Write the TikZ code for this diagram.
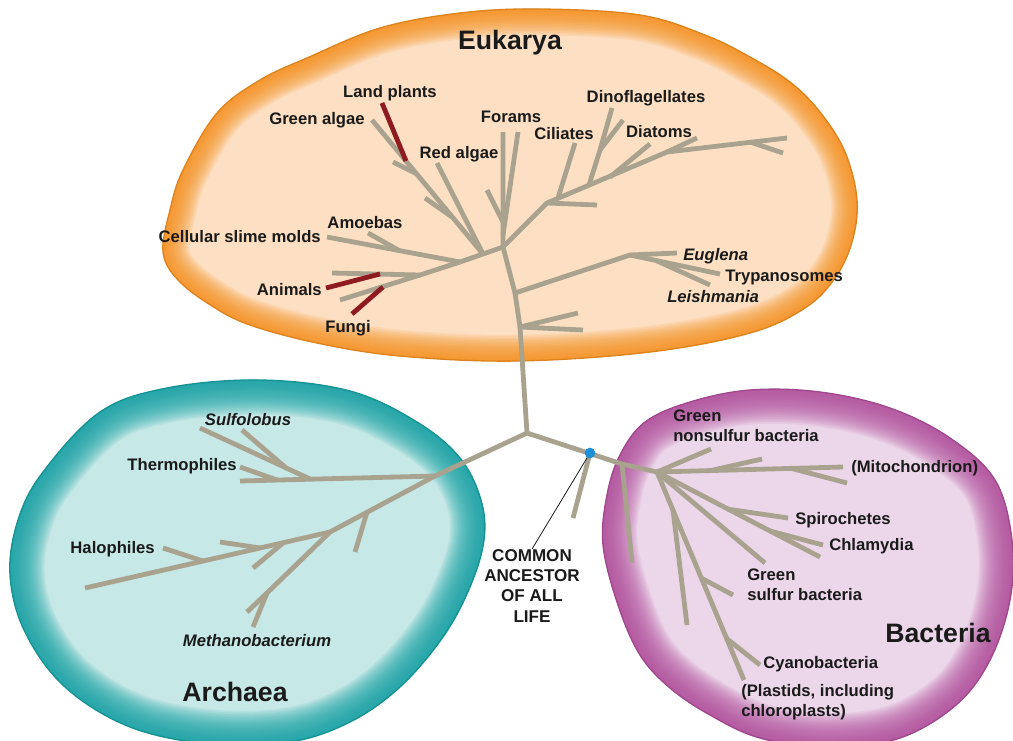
\documentclass[tikz,border=0pt]{standalone}
\usepackage{fontspec}
\setmainfont{Liberation Sans}
\definecolor{ink}{HTML}{1A1A1A}
\definecolor{twig}{HTML}{A8A28F}
\definecolor{plantred}{HTML}{8E1B1F}
\definecolor{eukin}{HTML}{FDE0C3}
\definecolor{eukrim}{HTML}{F5911F}
\definecolor{arcin}{HTML}{C6E8E6}
\definecolor{arcrim}{HTML}{17A2A5}
\definecolor{bacin}{HTML}{ECD7EA}
\definecolor{bacrim}{HTML}{B24F9D}
\definecolor{ancblue}{HTML}{1C8FD9}

\newcommand{\eukpath}{plot[smooth cycle,tension=0.6] coordinates {(163,252) (170,210) (183,170) (217,113) (260,80) (307,58) (380,28) (460,13) (540,9) (640,15) (705,35) (750,57) (790,82) (820,112) (845,152) (857,200) (852,242) (835,278) (805,308) (750,333) (650,352) (517,361) (400,356) (317,343) (250,325) (212,306) (178,280)}}
\newcommand{\arcpath}{plot[smooth cycle,tension=0.6] coordinates {(10,575) (18,520) (43,472) (100,412) (167,388) (260,380) (350,391) (417,422) (460,458) (481,500) (484,540) (470,587) (443,637) (400,687) (350,722) (290,742) (210,744) (130,727) (65,687) (25,632)}}
\newcommand{\bacpath}{plot[smooth cycle,tension=0.6] coordinates {(603,545) (607,495) (620,455) (645,422) (690,402) (750,390) (820,392) (890,408) (950,438) (995,480) (1012,540) (1010,600) (990,660) (956,705) (900,738) (830,748) (760,738) (710,715) (670,688) (640,655) (618,605)}}

\tikzset{
  branch/.style={twig,line width=3.6pt,line join=round},
  redbranch/.style={plantred,line width=3.6pt},
  lab/.style={font=\fontsize{12.5}{15}\selectfont\bfseries,text=ink,
    inner sep=0pt,text height=9pt,text depth=0pt},
  ital/.style={lab,font=\fontsize{12.5}{15}\selectfont\bfseries\itshape},
  mlab/.style={font=\fontsize{12.5}{15}\selectfont\bfseries,text=ink,
    inner sep=0pt,align=left},
  domainlab/.style={font=\fontsize{20}{24}\selectfont\bfseries,text=ink,
    inner sep=0pt,text height=14.3pt,text depth=0pt},
}

\begin{document}
\begin{tikzpicture}[x=0.75pt,y=-0.75pt]
  \fill[white] (0,0) rectangle (1013,740);
  \useasboundingbox (0,0) rectangle (1013,740);

  % the three domains, light inside and a soft darker rim
  \begin{scope}
    \clip \eukpath;
    \fill[eukin] \eukpath;
    \foreach \i [evaluate=\i as \w using 2.2*\i] in {1,...,18}
      \draw[eukrim,line width=\w pt,opacity=0.1] \eukpath;
  \end{scope}
  \draw[eukrim!90!black,line width=1pt] \eukpath;
  \begin{scope}
    \clip \arcpath;
    \fill[arcin] \arcpath;
    \foreach \i [evaluate=\i as \w using 2.6*\i] in {1,...,20}
      \draw[arcrim,line width=\w pt,opacity=0.1] \arcpath;
  \end{scope}
  \draw[arcrim!90!black,line width=1pt] \arcpath;
  \begin{scope}
    \clip \bacpath;
    \fill[bacin] \bacpath;
    \foreach \i [evaluate=\i as \w using 2.6*\i] in {1,...,20}
      \draw[bacrim,line width=\w pt,opacity=0.1] \bacpath;
  \end{scope}
  \draw[bacrim!90!black,line width=1pt] \bacpath;

  % tree points
  \coordinate (root) at (527,433);
  \coordinate (eA) at (520,327); \coordinate (eB) at (515,293);
  \coordinate (eC) at (503,247);
  \coordinate (eA1) at (578,313); \coordinate (eA2) at (583,330);
  \coordinate (eu0) at (630,255); \coordinate (eu1) at (655,260);
  \coordinate (euglT) at (677,253); \coordinate (trypT) at (720,274);
  \coordinate (leishT) at (710,285);
  \coordinate (fo1) at (503,132); \coordinate (fo2a) at (503,235);
  \coordinate (fo2) at (518,132); \coordinate (fo3a) at (503,222);
  \coordinate (fo3) at (487,190);
  \coordinate (r1) at (547,203); \coordinate (r2) at (667,152);
  \coordinate (r3) at (787,138); \coordinate (rh) at (597,205);
  \coordinate (cil0) at (558,198); \coordinate (cilT) at (575,143);
  \coordinate (dino0) at (589,185); \coordinate (dino1) at (600,150);
  \coordinate (dinoT1) at (612,108); \coordinate (dinoT2) at (623,120);
  \coordinate (diat0) at (610,177); \coordinate (diatT) at (650,144);
  \coordinate (diatT2) at (697,138);
  \coordinate (r3a) at (750,142); \coordinate (r3b) at (783,153);
  \coordinate (l1) at (483,254); \coordinate (l2) at (460,262);
  \coordinate (rdT) at (437,163); \coordinate (gaT) at (372,120);
  \coordinate (ga1) at (452,217); \coordinate (ga1T) at (425,198);
  \coordinate (ga2) at (417,174); \coordinate (ga2T) at (393,162);
  \coordinate (lp0) at (406,161); \coordinate (lpT) at (382,103);
  \coordinate (smT) at (327,237);
  \coordinate (am0) at (400,251); \coordinate (amT) at (368,233);
  \coordinate (an0) at (420,275); \coordinate (anT1) at (332,273);
  \coordinate (anT2) at (340,300);
  \coordinate (an1) at (380,274); \coordinate (anR) at (326,288);
  \coordinate (fu1) at (383,287); \coordinate (fuR) at (352,314);
  \coordinate (a1) at (435,476); \coordinate (a2) at (330,532);
  \coordinate (aT) at (85,588); \coordinate (aup) at (240,481);
  \coordinate (su0) at (310,479); \coordinate (suT) at (200,428);
  \coordinate (su1) at (285,467); \coordinate (suT2) at (242,430);
  \coordinate (th0) at (277,480); \coordinate (thT) at (240,467);
  \coordinate (b0) at (367,512); \coordinate (bT) at (355,552);
  \coordinate (me1) at (267,593); \coordinate (meT) at (253,627);
  \coordinate (meT2) at (247,612);
  \coordinate (h1) at (283,543); \coordinate (h1T) at (253,568);
  \coordinate (h2) at (260,548); \coordinate (h2T) at (220,542);
  \coordinate (h3) at (203,561); \coordinate (h3T) at (163,548);
  \coordinate (bc0) at (622,464); \coordinate (bcT) at (632,563);
  \coordinate (b1) at (657,472); \coordinate (ancT) at (573,518);
  \coordinate (mitoT) at (843,467);
  \coordinate (mi0) at (790,468); \coordinate (mitoT2) at (847,483);
  \coordinate (gnsT) at (711,449);
  \coordinate (gn0) at (713,470); \coordinate (gnT2) at (762,459);
  \coordinate (chT2) at (820,557);
  \coordinate (sp0) at (727,509); \coordinate (spT) at (788,518);
  \coordinate (ch0) at (770,531); \coordinate (chT) at (823,545);
  \coordinate (gsT) at (765,563); \coordinate (cyT) at (744,680);
  \coordinate (cy1) at (673,510); \coordinate (cy1T) at (687,625);
  \coordinate (cy2) at (701,578); \coordinate (cy2T) at (733,595);
  \coordinate (cy3) at (726,638); \coordinate (cy3T) at (760,665);

  % eukarya
  \draw[branch] (root) -- (eA) -- (eB) -- (eC) -- (fo1);
  \draw[branch] (eA1) -- (eA) -- (eA2);
  \draw[branch] (eB) -- (eu0) -- (euglT);
  \draw[branch] (eu0) -- (trypT);
  \draw[branch] (eu1) -- (leishT);
  \draw[branch] (fo2a) -- (fo2);
  \draw[branch] (fo3a) -- (fo3);
  \draw[branch] (eC) -- (r1) -- (r2) -- (r3);
  \draw[branch] (r1) -- (rh);
  \draw[branch] (cil0) -- (cilT);
  \draw[branch] (dino0) -- (dino1) -- (dinoT1);
  \draw[branch] (dino1) -- (dinoT2);
  \draw[branch] (diat0) -- (diatT);
  \draw[branch] (r2) -- (diatT2);
  \draw[branch] (r3a) -- (r3b);
  \draw[branch] (eC) -- (l1) -- (l2);
  \draw[branch] (l1) -- (rdT);
  \draw[branch] (l1) -- (gaT);
  \draw[branch] (ga1) -- (ga1T);
  \draw[branch] (ga2) -- (ga2T);
  \draw[branch] (l2) -- (smT);
  \draw[branch] (am0) -- (amT);
  \draw[branch] (l2) -- (an0) -- (anT1);
  \draw[branch] (an0) -- (anT2);
  \draw[redbranch] (lp0) -- (lpT);
  \draw[redbranch] (an1) -- (anR);
  \draw[redbranch] (fu1) -- (fuR);

  % archaea
  \draw[branch] (root) -- (a1) -- (a2) -- (aT);
  \draw[branch] (a1) -- (aup);
  \draw[branch] (su0) -- (suT);
  \draw[branch] (su1) -- (suT2);
  \draw[branch] (th0) -- (thT);
  \draw[branch] (b0) -- (bT);
  \draw[branch] (a2) -- (me1) -- (meT);
  \draw[branch] (me1) -- (meT2);
  \draw[branch] (h1) -- (h1T);
  \draw[branch] (h2) -- (h2T);
  \draw[branch] (h3) -- (h3T);

  % bacteria
  \draw[branch] (root) -- (bc0) -- (b1);
  \draw[branch] (bc0) -- (bcT);
  \draw[branch] (590,453) -- (ancT);
  \draw[branch] (b1) -- (mitoT);
  \draw[branch] (mi0) -- (mitoT2);
  \draw[branch] (b1) -- (gnsT);
  \draw[branch] (gn0) -- (gnT2);
  \draw[branch] (b1) -- (chT2);
  \draw[branch] (sp0) -- (spT);
  \draw[branch] (ch0) -- (chT);
  \draw[branch] (b1) -- (gsT);
  \draw[branch] (b1) -- (cyT);
  \draw[branch] (cy1) -- (cy1T);
  \draw[branch] (cy2) -- (cy2T);
  \draw[branch] (cy3) -- (cy3T);

  % common ancestor
  \node[mlab,align=center,anchor=north,
    font=\fontsize{12.8}{15.3}\selectfont\bfseries] (common) at (532,549)
    {COMMON\\ANCESTOR\\OF ALL\\LIFE};
  \node[circle,fill=ancblue,inner sep=0pt,minimum size=8pt] (anc) at (590,453) {};
  \draw[ink,line width=0.6pt] (anc) -- (common.north);

  % labels
  \node[domainlab] (eukarya) at (510,40) {Eukarya};
  \node[domainlab] (archaea) at (235,692) {Archaea};
  \node[domainlab] (bacteria) at (938,633) {Bacteria};

  \node[lab] (landpl) at (390,91) {Land plants};
  \node[lab] (greenal) at (317,118) {Green algae};
  \node[lab] (redal) at (459,152) {Red algae};
  \node[lab] (forams) at (511,116) {Forams};
  \node[lab] (cilia) at (564,133) {Ciliates};
  \node[lab] (dinofl) at (646,96) {Dinoflagellates};
  \node[lab] (diatoms) at (659,131) {Diatoms};
  \node[lab] (amoebas) at (365,222) {Amoebas};
  \node[lab,anchor=east] (slime) at (321,236) {Cellular slime molds};
  \node[lab,anchor=east] (animals) at (322,289) {Animals};
  \node[lab] (fungi) at (348,326) {Fungi};
  \node[ital,anchor=west] (euglena) at (683,254) {Euglena};
  \node[lab,anchor=west] (trypano) at (725,275) {Trypanosomes};
  \node[ital,anchor=west] (leishm) at (667,296) {Leishmania};

  \node[ital] (sulfolo) at (248,419) {Sulfolobus};
  \node[lab,anchor=east] (thermo) at (237,464) {Thermophiles};
  \node[lab,anchor=east] (halo) at (155,547) {Halophiles};
  \node[ital] (methano) at (257,640) {Methanobacterium};

  \node[mlab,anchor=north west] (gnsb) at (673,410) {Green\\nonsulfur bacteria};
  \node[lab,anchor=west] (mito) at (851,466) {(Mitochondrion)};
  \node[lab,anchor=west] (spiro) at (795,518) {Spirochetes};
  \node[lab,anchor=west] (chlamy) at (829,544) {Chlamydia};
  \node[mlab,anchor=north west] (gsb) at (747,569) {Green\\sulfur bacteria};
  \node[lab,anchor=west] (cyano) at (763,662) {Cyanobacteria};
  \node[mlab,anchor=north west] (plastid) at (741,684)
    {(Plastids, including\\chloroplasts)};
\end{tikzpicture}
\end{document}
